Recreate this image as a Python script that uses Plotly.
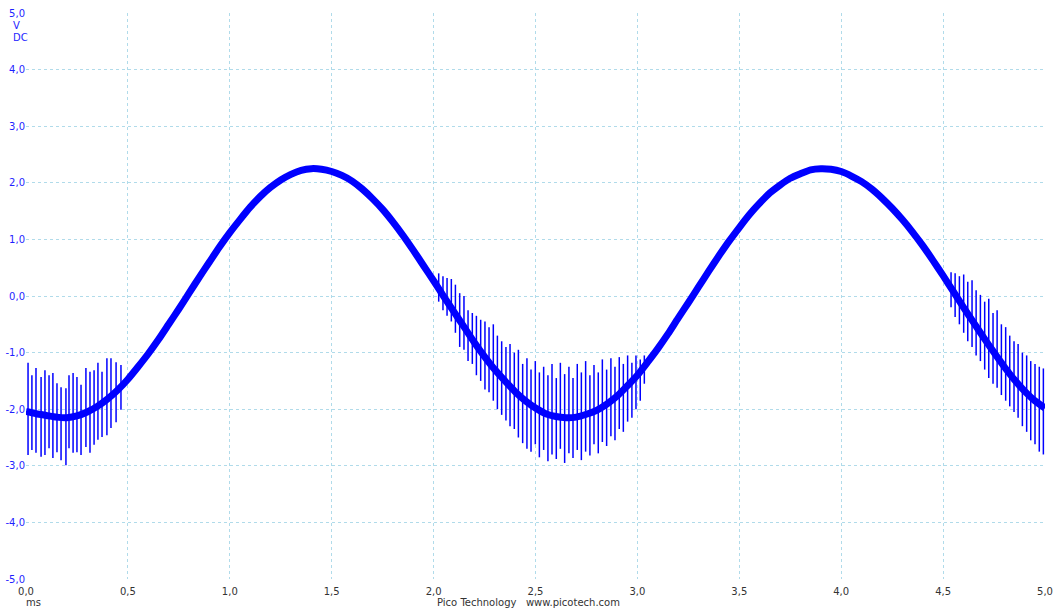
import plotly.graph_objects as go

# ---- axis ticks -------------------------------------------------------------
x_tick_vals = [0.0, 0.5, 1.0, 1.5, 2.0, 2.5, 3.0, 3.5, 4.0, 4.5, 5.0]
x_tick_text = ["0,0", "0,5", "1,0", "1,5", "2,0", "2,5", "3,0", "3,5", "4,0", "4,5", "5,0"]
y_tick_vals = [-5, -4, -3, -2, -1, 0, 1, 2, 3, 4, 5]
y_tick_text = ["-5,0", "-4,0", "-3,0", "-2,0", "-1,0", "0,0", "1,0", "2,0", "3,0", "4,0", "5,0"]

# ---- channel A: averaged level, one sample every 0.05 ms ---------------------
trace_t = [round(0.05 * i, 2) for i in range(101)]
trace_v = [
    -2.04, -2.08, -2.11, -2.14, -2.15, -2.12, -2.05, -1.95, -1.82, -1.66,
    -1.47, -1.25, -1.02, -0.77, -0.50, -0.23, 0.05, 0.33, 0.60, 0.87,
    1.12, 1.35, 1.57, 1.76, 1.92, 2.05, 2.15, 2.22, 2.25, 2.24,
    2.20, 2.13, 2.03, 1.89, 1.72, 1.53, 1.31, 1.07, 0.81, 0.54,
    0.27, -0.01, -0.28, -0.55, -0.82, -1.07, -1.30, -1.50, -1.69, -1.85,
    -1.98, -2.08, -2.13, -2.15, -2.14, -2.09, -2.02, -1.91, -1.77, -1.59,
    -1.40, -1.17, -0.93, -0.67, -0.39, -0.12, 0.16, 0.44, 0.71, 0.97,
    1.21, 1.44, 1.64, 1.82, 1.96, 2.08, 2.16, 2.23, 2.25, 2.24,
    2.20, 2.12, 2.02, 1.89, 1.73, 1.55, 1.35, 1.13, 0.89, 0.63,
    0.36, 0.08, -0.20, -0.47, -0.74, -1.00, -1.25, -1.48, -1.68, -1.85,
    -1.98,
]

# ---- switching spikes: time (ms), peak high (V), peak low (V) ----------------
spike_a_t = [0.010, 0.029, 0.049, 0.074, 0.093, 0.113, 0.132, 0.152, 0.172, 0.196,
             0.211, 0.231, 0.250, 0.270, 0.294, 0.314, 0.334, 0.353, 0.373, 0.397,
             0.417, 0.442, 0.466]
spike_a_hi = [-1.18, -1.40, -1.27, -1.43, -1.31, -1.40, -1.36, -1.54, -1.61, -1.63,
              -1.40, -1.36, -1.43, -1.57, -1.27, -1.34, -1.31, -1.18, -1.34, -1.10,
              -1.10, -1.17, -1.22]
spike_a_lo = [-2.81, -2.72, -2.77, -2.84, -2.81, -2.69, -2.86, -2.76, -2.90, -2.99,
              -2.69, -2.77, -2.76, -2.81, -2.67, -2.77, -2.63, -2.54, -2.49, -2.46,
              -2.33, -2.23, -2.01]

spike_b_t = [2.025, 2.046, 2.066, 2.087, 2.107, 2.128, 2.149, 2.169, 2.190, 2.210,
             2.231, 2.252, 2.272, 2.293, 2.313, 2.334, 2.355, 2.375, 2.396, 2.416,
             2.437, 2.458, 2.478, 2.499, 2.519, 2.540, 2.561, 2.581, 2.602, 2.622,
             2.643, 2.664, 2.684, 2.705, 2.725, 2.746, 2.767, 2.787, 2.808, 2.828,
             2.849, 2.870, 2.890, 2.911, 2.931, 2.952, 2.973, 2.993, 3.014, 3.034]
spike_b_hi = [0.40, 0.35, 0.32, 0.30, 0.20, 0.05, 0.00, -0.25, -0.30, -0.35,
              -0.42, -0.45, -0.55, -0.50, -0.70, -0.80, -0.90, -0.85, -1.00, -0.95,
              -1.20, -1.10, -1.30, -1.15, -1.35, -1.25, -1.40, -1.20, -1.45, -1.18,
              -1.38, -1.25, -1.45, -1.20, -1.35, -1.15, -1.40, -1.22, -1.35, -1.12,
              -1.30, -1.10, -1.25, -1.08, -1.20, -1.05, -1.18, -1.05, -1.12, -1.05]
spike_b_lo = [-0.10, -0.25, -0.35, -0.45, -0.65, -0.90, -0.95, -1.15, -1.20, -1.40,
              -1.50, -1.65, -1.70, -1.85, -2.00, -2.10, -2.20, -2.30, -2.35, -2.50,
              -2.60, -2.70, -2.75, -2.62, -2.85, -2.72, -2.92, -2.80, -2.88, -2.70,
              -2.95, -2.78, -2.86, -2.72, -2.90, -2.75, -2.82, -2.62, -2.78, -2.58,
              -2.65, -2.48, -2.55, -2.35, -2.40, -2.22, -2.15, -2.00, -1.85, -1.55]

spike_c_t = [4.539, 4.559, 4.580, 4.601, 4.621, 4.642, 4.662, 4.683, 4.704, 4.724,
             4.745, 4.765, 4.786, 4.807, 4.827, 4.848, 4.868, 4.889, 4.910, 4.930,
             4.951, 4.972, 4.992]
spike_c_hi = [0.42, 0.40, 0.35, 0.38, 0.25, 0.28, 0.10, 0.02, -0.10, -0.05,
              -0.30, -0.25, -0.50, -0.55, -0.70, -0.80, -0.85, -1.00, -1.05, -1.15,
              -1.20, -1.25, -1.28]
spike_c_lo = [-0.20, -0.37, -0.50, -0.65, -0.80, -0.90, -1.05, -1.15, -1.30, -1.45,
              -1.55, -1.62, -1.75, -1.85, -1.95, -2.05, -2.15, -2.30, -2.40, -2.55,
              -2.62, -2.75, -2.80]

TRACE_BLUE = "#0000ff"
GRID_BLUE = "#b0dbea"
LABEL_BLUE = "#1f1fff"
FONT = "DejaVu Sans, Verdana, sans-serif"


def spike_segments(ts, his, los):
    xs, ys = [], []
    for t, hi, lo in zip(ts, his, los):
        xs += [t, t, None]
        ys += [hi, lo, None]
    return xs, ys


sx, sy = [], []
for ts, his, los in ((spike_a_t, spike_a_hi, spike_a_lo),
                     (spike_b_t, spike_b_hi, spike_b_lo),
                     (spike_c_t, spike_c_hi, spike_c_lo)):
    xs, ys = spike_segments(ts, his, los)
    sx += xs
    sy += ys

fig = go.Figure()
# main trace band
fig.add_trace(go.Scatter(
    x=trace_t, y=trace_v, mode="lines",
    line=dict(color=TRACE_BLUE, width=7, shape="spline", smoothing=0.6),
    hoverinfo="skip", showlegend=False,
))
# switching spikes
fig.add_trace(go.Scatter(
    x=sx, y=sy, mode="lines",
    line=dict(color=TRACE_BLUE, width=1.5),
    hoverinfo="skip", showlegend=False, connectgaps=False,
))

fig.update_layout(
    width=1056, height=610,
    margin=dict(l=26, r=11, t=13, b=31),
    paper_bgcolor="white", plot_bgcolor="white",
    font=dict(family=FONT, size=10, color="#333333"),
    xaxis=dict(
        range=[0, 5], tickmode="array", tickvals=x_tick_vals, ticktext=x_tick_text,
        showgrid=True, gridcolor=GRID_BLUE, griddash="3px,3px", gridwidth=1,
        zeroline=False, showline=False,
        ticks="outside", ticklen=3, tickcolor="rgba(0,0,0,0)",
        tickfont=dict(family=FONT, size=10, color="#333333"),
        automargin=False, fixedrange=True,
    ),
    yaxis=dict(
        range=[-5, 5], tickmode="array", tickvals=y_tick_vals, ticktext=y_tick_text,
        showgrid=True, gridcolor=GRID_BLUE, griddash="3px,3px", gridwidth=1,
        zeroline=False, showline=False, ticks="",
        tickfont=dict(family=FONT, size=10, color=LABEL_BLUE),
        automargin=False, fixedrange=True,
    ),
    annotations=[
        dict(text="V", xref="paper", yref="paper", x=0, y=1, xshift=-10, yshift=-12,
             xanchor="center", yanchor="middle", showarrow=False,
             font=dict(family=FONT, size=10, color=LABEL_BLUE)),
        dict(text="DC", xref="paper", yref="paper", x=0, y=1, xshift=-6, yshift=-24,
             xanchor="center", yanchor="middle", showarrow=False,
             font=dict(family=FONT, size=10, color=LABEL_BLUE)),
        dict(text="ms", xref="paper", yref="paper", x=0, y=0, xshift=7, yshift=-23,
             xanchor="center", yanchor="middle", showarrow=False,
             font=dict(family=FONT, size=10, color="#333333")),
        dict(text="Pico Technology   www.picotech.com", xref="paper", yref="paper",
             x=0.493, y=0, yshift=-23, xanchor="center", yanchor="middle",
             showarrow=False, font=dict(family=FONT, size=10, color="#333333")),
    ],
)

fig.write_html("out.html", config={"displayModeBar": False})
